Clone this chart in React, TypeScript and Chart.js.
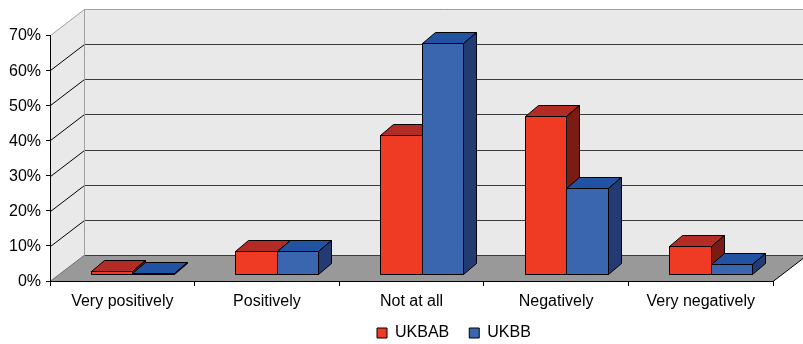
import React, { useEffect, useRef } from "react";
import { Chart, registerables } from "chart.js";

Chart.register(...registerables);

const categories = ["Very positively", "Positively", "Not at all", "Negatively", "Very negatively"];
const seriesNames = ["UKBAB", "UKBB"];
const ukbab = [0.8, 6.6, 39.6, 45.0, 8.0];
const ukbb = [0.3, 6.6, 65.8, 24.6, 2.8];
const yMax = 70;
const yStep = 10;

// styling / geometry constants
const FRONT = ["#EF3B24", "#3A66B0"];
const TOP = ["#B22B25", "#2253A3"];
const SIDE = ["#7A1B14", "#233A73"];
const WALL = "#e9e9e9";
const FLOOR = "#999999";
const GRID = "#3a3a3a";
const EDGE = "#a0a0a0";
const DEPTH_X = 34;
const DEPTH_Y = -26;
const BAR_OFF_X = 10;
const BAR_OFF_Y = -7;
const BAR_DX = 13;
const BAR_DY = -11;
const LEGEND_FIRST_X = 377;
const LEGEND_Y = 333;
const CANVAS_W = 803;
const CANVAS_H = 344;

const s = (v: number) => Math.round(v) + 0.5;

function poly(ctx: CanvasRenderingContext2D, pts: number[][], fill: string | null, stroke: string | null) {
  ctx.beginPath();
  ctx.moveTo(pts[0][0], pts[0][1]);
  for (let i = 1; i < pts.length; i++) ctx.lineTo(pts[i][0], pts[i][1]);
  ctx.closePath();
  if (fill) {
    ctx.fillStyle = fill;
    ctx.fill();
  }
  if (stroke) {
    ctx.strokeStyle = stroke;
    ctx.lineWidth = 1;
    ctx.stroke();
  }
}

function line(ctx: CanvasRenderingContext2D, x0: number, y0: number, x1: number, y1: number, color: string) {
  ctx.beginPath();
  ctx.moveTo(x0, y0);
  ctx.lineTo(x1, y1);
  ctx.strokeStyle = color;
  ctx.lineWidth = 1;
  ctx.stroke();
}

const threeD = {
  id: "threeD",
  afterLayout(chart: any) {
    const lg = chart.legend;
    if (!lg || !lg.lineWidths) return;
    const pad = lg.options.labels.padding;
    const start = (lg.left + pad + lg.right - lg.lineWidths[0]) / 2;
    const shift = LEGEND_FIRST_X - start;
    lg.left += shift;
    lg.right += shift;
    const fontSize = lg.options.labels.font.size;
    const dy = LEGEND_Y - (lg.top + pad + fontSize / 2);
    lg.top += dy;
    lg.bottom = chart.height;
  },
  beforeDraw(chart: any) {
    const { ctx, chartArea: a, scales } = chart;
    const y = scales.y;
    const L = s(a.left) - 0.5;
    const R = a.right;
    const T = s(y.getPixelForValue(yMax));
    const B = s(y.getPixelForValue(0));
    ctx.save();
    // back wall
    poly(ctx, [[L + DEPTH_X, T + DEPTH_Y], [R + DEPTH_X, T + DEPTH_Y], [R + DEPTH_X, B + DEPTH_Y], [L + DEPTH_X, B + DEPTH_Y]], WALL, null);
    // left wall
    poly(ctx, [[L, T], [L + DEPTH_X, T + DEPTH_Y], [L + DEPTH_X, B + DEPTH_Y], [L, B]], WALL, null);
    // floor
    poly(ctx, [[L, B], [L + DEPTH_X, B + DEPTH_Y], [R + DEPTH_X, B + DEPTH_Y], [R, B]], FLOOR, null);
    // gridlines
    for (let v = 0; v <= yMax; v += yStep) {
      const py = s(y.getPixelForValue(v));
      const col = v === yMax ? EDGE : GRID;
      line(ctx, L + DEPTH_X + 0.5, py + DEPTH_Y, R + DEPTH_X, py + DEPTH_Y, col);
      if (v > 0) line(ctx, L + 0.5, py, L + DEPTH_X + 0.5, py + DEPTH_Y, v === yMax ? EDGE : "#000");
    }
    // back wall left edge
    line(ctx, L + DEPTH_X + 0.5, T + DEPTH_Y, L + DEPTH_X + 0.5, B + DEPTH_Y, EDGE);
    // floor side edges
    line(ctx, L, B, L + DEPTH_X, B + DEPTH_Y, "#707070");
    line(ctx, R, B, R + DEPTH_X, B + DEPTH_Y, "#000");
    ctx.restore();
  },
  beforeDatasetsDraw(chart: any) {
    const { ctx } = chart;
    ctx.save();
    ctx.lineJoin = "round";
    const n = chart.data.datasets.length;
    for (let j = 0; j < chart.data.labels.length; j++) {
      for (let i = 0; i < n; i++) {
        const el = chart.getDatasetMeta(i).data[j];
        const { x, y, base, width } = el.getProps(["x", "y", "base", "width"], true);
        const x0 = s(x - width / 2 + BAR_OFF_X);
        const x1 = s(x + width / 2 + BAR_OFF_X);
        const yt = s(y + BAR_OFF_Y);
        const yb = s(base + BAR_OFF_Y);
        poly(ctx, [[x0, yt], [x1, yt], [x1, yb], [x0, yb]], FRONT[i], "#000");
        poly(ctx, [[x0, yt], [x1, yt], [x1 + BAR_DX, yt + BAR_DY], [x0 + BAR_DX, yt + BAR_DY]], TOP[i], "#000");
        poly(ctx, [[x1, yt], [x1 + BAR_DX, yt + BAR_DY], [x1 + BAR_DX, yb + BAR_DY], [x1, yb]], SIDE[i], "#000");
      }
    }
    ctx.restore();
    return false;
  },
};

export default function App() {
  const ref = useRef<HTMLCanvasElement | null>(null);

  useEffect(() => {
    if (!ref.current) return;
    Chart.defaults.font.family = "'Liberation Sans', Arial, sans-serif";
    Chart.defaults.font.size = 16;
    Chart.defaults.color = "#000";
    const chart = new Chart(ref.current, {
      type: "bar",
      data: {
        labels: categories,
        datasets: [
          { label: seriesNames[0], data: ukbab, backgroundColor: FRONT[0], borderColor: "#000", borderWidth: 1 },
          { label: seriesNames[1], data: ukbb, backgroundColor: FRONT[1], borderColor: "#000", borderWidth: 1 },
        ],
      },
      options: {
        animation: false,
        responsive: false,
        maintainAspectRatio: false,
        devicePixelRatio: 1,
        layout: { padding: { top: 35, right: 30, bottom: 0, left: 0 } },
        datasets: { bar: { categoryPercentage: 0.574, barPercentage: 1 } },
        plugins: {
          legend: {
            position: "bottom",
            maxHeight: 30,
            labels: { boxWidth: 10, boxHeight: 10, padding: 20, font: { size: 16 }, color: "#000" },
          },
          tooltip: { enabled: false },
        },
        scales: {
          x: {
            grid: { offset: true, drawOnChartArea: false, tickLength: 5, color: "#000" },
            border: { display: true, color: "#000" },
            ticks: { maxRotation: 0, autoSkip: false, padding: 6, font: { size: 16 }, color: "#000" },
            afterFit: (sc: any) => {
              sc.height = 33;
            },
          },
          y: {
            min: 0,
            max: yMax,
            ticks: {
              stepSize: yStep,
              padding: 5,
              labelOffset: 1,
              font: { size: 16 },
              color: "#000",
              callback: (v: any) => v + "%",
            },
            grid: { drawOnChartArea: false, tickLength: 4, color: "#000" },
            border: { display: true, color: "#000" },
            afterFit: (sc: any) => {
              sc.width = 50;
            },
          },
        },
      },
      plugins: [threeD],
    });
    return () => chart.destroy();
  }, []);

  return (
    <div style={{ position: "fixed", left: 0, top: 0, width: CANVAS_W, height: CANVAS_H, overflow: "hidden", background: "#fff" }}>
      <canvas ref={ref} width={CANVAS_W} height={CANVAS_H} style={{ display: "block", width: CANVAS_W, height: CANVAS_H }} />
    </div>
  );
}
